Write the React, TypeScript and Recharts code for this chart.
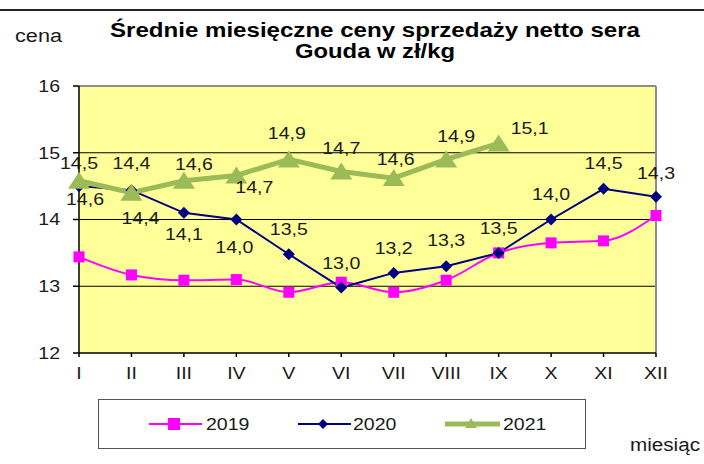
import React from 'react'
import {
  LineChart,
  Line,
  XAxis,
  YAxis,
  CartesianGrid,
  Legend,
  LabelList,
  ReferenceLine,
} from 'recharts'

const months = ['I', 'II', 'III', 'IV', 'V', 'VI', 'VII', 'VIII', 'IX', 'X', 'XI', 'XII']
const prices2019 = [13.44, 13.17, 13.09, 13.1, 12.91, 13.06, 12.91, 13.09, 13.5, 13.65, 13.68, 14.06]
const prices2020 = [14.5, 14.44, 14.1, 14.0, 13.48, 12.98, 13.2, 13.3, 13.5, 14.0, 14.46, 14.34]
const prices2021 = [14.58, 14.4, 14.58, 14.66, 14.9, 14.72, 14.62, 14.9, 15.14, null, null, null]
const yTicks = [12, 13, 14, 15, 16]

// hand placed label offsets (text centre relative to the point), like in the original sheet
const labelShift2020: [number, number][] = [
  [0, -23], [0, -27], [0, 21], [-2, 28], [0, -25], [0, -25],
  [0, -25], [0, -26], [0, -25], [0, -25], [0, -26], [0, -24],
]
const labelShift2021: [number, number][] = [
  [6, 18], [9, 25], [10, -17], [18, 12], [-2, -26], [0, -23], [2, -19], [10, -23], [31, -15],
]

const data = months.map((m, i) => ({
  month: m,
  y2019: prices2019[i],
  y2020: prices2020[i],
  y2021: prices2021[i],
}))

const FONT = 'Liberation Sans, Arial, sans-serif'
const SX = 1.15
const TXT = '#1a1a1a'

function fmt(v: number) {
  return v.toFixed(1).replace('.', ',')
}

function Wide({ x, y, anchor = 'middle', size = 17, dy = '0.35em', children }: any) {
  return (
    <g transform={`translate(${x},${y}) scale(${SX},1)`}>
      <text x={0} y={0} dy={dy} textAnchor={anchor} fontSize={size} fontFamily={FONT} fill={TXT}>
        {children}
      </text>
    </g>
  )
}

function YTick({ x, y, payload }: any) {
  return <Wide x={x} y={y} anchor="end" size={17}>{payload.value}</Wide>
}

function XTick({ x, y, payload }: any) {
  return <Wide x={x} y={y} size={17} dy="0.71em">{payload.value}</Wide>
}

function makeLabel(shifts: [number, number][]) {
  return (props: any) => {
    const { x, y, value, index } = props
    if (value == null || y == null) return null
    const s = shifts[index] || [0, -24]
    return <Wide x={x + s[0]} y={y + s[1]} size={17}>{fmt(value)}</Wide>
  }
}

function SquareDot({ cx, cy }: any) {
  if (cx == null || cy == null) return <g />
  return <rect x={cx - 5.5} y={cy - 5.5} width={11} height={11} fill="#FF00FF" />
}

function DiamondDot({ cx, cy }: any) {
  if (cx == null || cy == null) return <g />
  return <polygon points={`${cx},${cy - 6} ${cx + 6},${cy} ${cx},${cy + 6} ${cx - 6},${cy}`} fill="#000080" />
}

function TriangleDot({ cx, cy }: any) {
  if (cx == null || cy == null) return <g />
  return <polygon points={`${cx},${cy - 9} ${cx + 11},${cy + 8} ${cx - 11},${cy + 8}`} fill="#9BBB59" />
}

const legendSlots = [
  { line: [50, 103], mark: 75, text: 107 },
  { line: [199, 252], mark: 224, text: 254 },
  { line: [346, 401], mark: 372, text: 404 },
]

function LegendBox({ payload }: any) {
  const cy = 24
  return (
    <svg width={486} height={48} style={{ display: 'block' }}>
      {(payload || []).map((p: any, i: number) => {
        const s = legendSlots[i]
        if (!s) return null
        const w = i === 2 ? 5 : 2
        let mark
        if (i === 0) mark = <rect x={s.mark - 6} y={cy - 6} width={12} height={12} fill={p.color} />
        else if (i === 1)
          mark = <polygon points={`${s.mark},${cy - 5} ${s.mark + 5},${cy} ${s.mark},${cy + 5} ${s.mark - 5},${cy}`} fill={p.color} />
        else
          mark = <polygon points={`${s.mark},${cy - 6} ${s.mark + 6},${cy + 4} ${s.mark - 6},${cy + 4}`} fill={p.color} />
        return (
          <g key={p.value}>
            <line x1={s.line[0]} x2={s.line[1]} y1={cy} y2={cy} stroke={p.color} strokeWidth={w} />
            {mark}
            <Wide x={s.text} y={cy} anchor="start" size={17}>{p.value}</Wide>
          </g>
        )
      })}
    </svg>
  )
}

export default function App() {
  return (
    <div style={{ position: 'absolute', left: 0, top: 0, width: 704, height: 464, background: '#fff' }}>
      <div style={{ position: 'absolute', left: 0, top: 9, width: 704, height: 0, borderTop: '2px solid #222' }} />
      <svg width={704} height={464} style={{ position: 'absolute', left: 0, top: 0 }}>
        <text x={110} y={37} textLength={530} lengthAdjust="spacingAndGlyphs" fontSize={20} fontWeight="bold" fontFamily={FONT} fill="#000">
          Średnie miesięczne ceny sprzedaży netto sera
        </text>
        <text x={295} y={58} textLength={160} lengthAdjust="spacingAndGlyphs" fontSize={20} fontWeight="bold" fontFamily={FONT} fill="#000">
          Gouda w zł/kg
        </text>
        <text x={15} y={42} textLength={47} lengthAdjust="spacingAndGlyphs" fontSize={18} fontFamily={FONT} fill={TXT}>
          cena
        </text>
        <text x={630} y={451} textLength={70} lengthAdjust="spacingAndGlyphs" fontSize={18} fontFamily={FONT} fill={TXT}>
          miesiąc
        </text>
      </svg>
      <div style={{ position: 'absolute', left: 0, top: 0 }}>
        <LineChart width={704} height={464} data={data} margin={{ top: 86, right: 48, bottom: 0, left: 0 }}>
          <CartesianGrid
            vertical={false}
            horizontalValues={[13, 14, 15]}
            fill="#FFFF99"
            fillOpacity={1}
            stroke="#000"
            strokeWidth={1}
          />
          <ReferenceLine y={16} stroke="#8c8c8c" strokeWidth={2} />
          <ReferenceLine x="XII" stroke="#8c8c8c" strokeWidth={2} />
          <XAxis
            dataKey="month"
            interval={0}
            height={111}
            axisLine={{ stroke: '#000', strokeWidth: 1.5 }}
            tickLine={{ stroke: '#000', strokeWidth: 1.5 }}
            tickSize={4}
            tickMargin={10}
            tick={<XTick />}
          />
          <YAxis
            width={79}
            domain={[12, 16]}
            ticks={yTicks}
            interval={0}
            axisLine={{ stroke: '#000', strokeWidth: 1.5 }}
            tickLine={{ stroke: '#000', strokeWidth: 1.5 }}
            tickSize={6}
            tickMargin={13}
            tick={<YTick />}
          />
          <Legend
            layout="horizontal"
            verticalAlign="middle"
            align="center"
            wrapperStyle={{
              left: 98,
              top: 399,
              width: 488,
              height: 50,
              border: '1.5px solid #555',
              boxSizing: 'border-box',
              background: '#fff',
            }}
            content={<LegendBox />}
          />
          <Line
            type="monotone"
            dataKey="y2019"
            name="2019"
            stroke="#FF00FF"
            strokeWidth={2}
            dot={<SquareDot />}
            activeDot={false}
            isAnimationActive={false}
          />
          <Line
            type="linear"
            dataKey="y2020"
            name="2020"
            stroke="#000080"
            strokeWidth={2}
            dot={<DiamondDot />}
            activeDot={false}
            isAnimationActive={false}
          >
            <LabelList dataKey="y2020" content={makeLabel(labelShift2020)} />
          </Line>
          <Line
            type="linear"
            dataKey="y2021"
            name="2021"
            stroke="#9BBB59"
            strokeWidth={5}
            dot={<TriangleDot />}
            activeDot={false}
            connectNulls={false}
            isAnimationActive={false}
          >
            <LabelList dataKey="y2021" content={makeLabel(labelShift2021)} />
          </Line>
        </LineChart>
      </div>
    </div>
  )
}
